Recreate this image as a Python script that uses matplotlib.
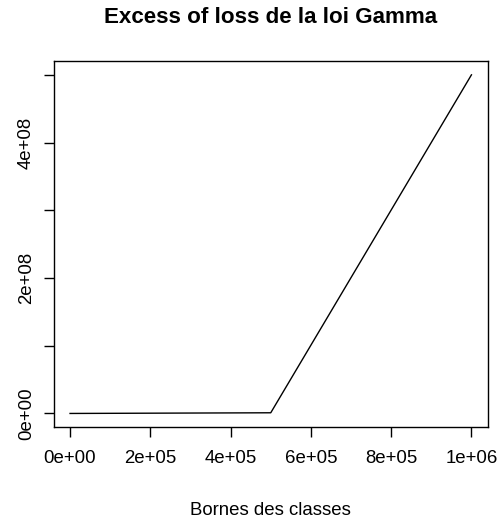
import numpy as np
import matplotlib.pyplot as plt
from matplotlib.ticker import FixedLocator

plt.rcParams['font.family'] = ['Liberation Sans', 'DejaVu Sans']

# bornes des classes et excess of loss
bornes = [0, 5e5, 1e6]
excess = [0, 1e6, 5e8]

xticks = [0, 2e5, 4e5, 6e5, 8e5, 1e6]
xlabels = ["0e+00", "2e+05", "4e+05", "6e+05", "8e+05", "1e+06"]
yticks_major = [0, 2e8, 4e8]
ylabels = ["0e+00", "2e+08", "4e+08"]
yticks_minor = [1e8, 3e8, 5e8]

W, H = 499, 523
fig = plt.figure(figsize=(W / 100, H / 100), dpi=100)
ax = fig.add_axes([54 / W, 1 - 427 / H, (487.5 - 54) / W, (427 - 61.3) / H])

ax.plot(bornes, excess, color="black", linewidth=1.0)

xr = max(bornes) - min(bornes)
yr = max(excess) - min(excess)
ax.set_xlim(min(bornes) - 0.04 * xr, max(bornes) + 0.04 * xr)
ax.set_ylim(min(excess) - 0.04 * yr, max(excess) + 0.04 * yr)

ax.set_xticks(xticks)
ax.set_xticklabels(xlabels)
ax.set_yticks(yticks_major)
ax.set_yticklabels(ylabels, rotation=90, va="center")
ax.yaxis.set_minor_locator(FixedLocator(yticks_minor))

for s in ax.spines.values():
    s.set_linewidth(1.0)
ax.tick_params(axis="both", which="both", direction="out", length=7.2, width=1.0,
               labelsize=13.4, colors="black")
ax.tick_params(axis="x", pad=9.5)
ax.tick_params(axis="y", pad=6.5)

fig.text(270.5 / W, 1 - 515 / H, "Bornes des classes", ha="center", va="baseline",
         fontsize=13.4)
fig.text(270.5 / W, 1 - 23 / H, "Excess of loss de la loi Gamma", ha="center", va="baseline",
         fontsize=16.1, fontweight="bold")

fig.savefig("out.png", dpi=100)
